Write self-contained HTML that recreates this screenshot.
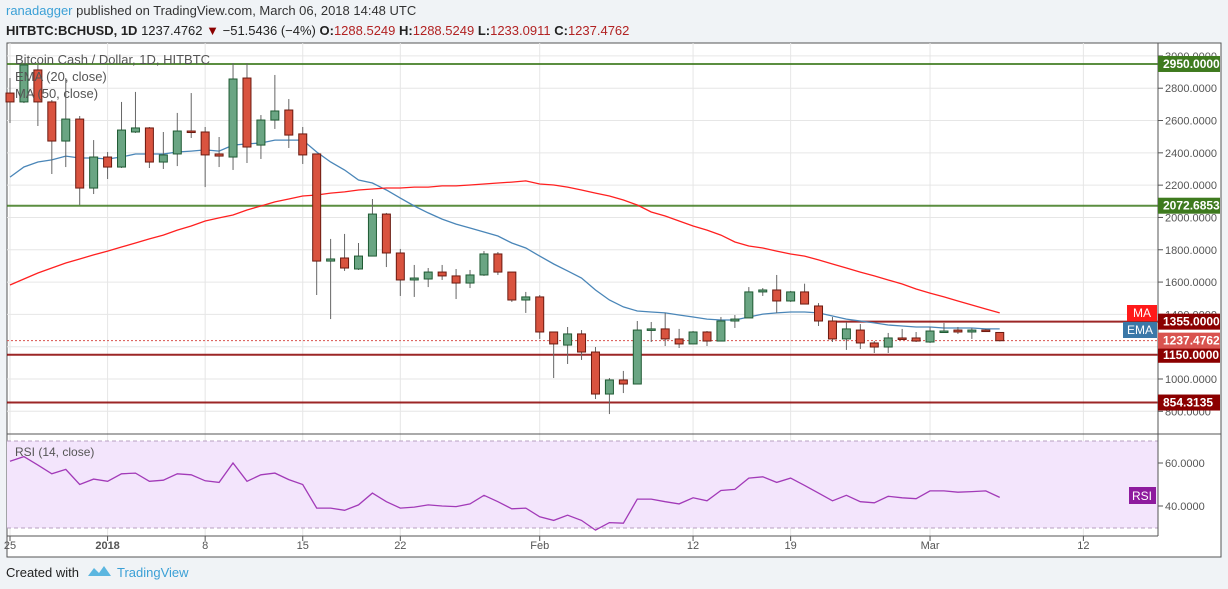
<!DOCTYPE html>
<html><head><meta charset="utf-8"><style>
body{margin:0;background:#f0f3f6;font-family:"Liberation Sans",sans-serif;}
svg{display:block}
</style></head><body>
<svg id="c" width="1228" height="589" xmlns="http://www.w3.org/2000/svg">
<rect x="0" y="0" width="1228" height="589" fill="#f0f3f6"/>
<text x="6" y="15" font-size="13" fill="#333"><tspan fill="#3ba0d6">ranadagger</tspan> published on TradingView.com, March 06, 2018 14:48 UTC</text>
<text x="6" y="35" font-size="13" fill="#222"><tspan font-weight="bold">HITBTC:BCHUSD, 1D</tspan> 1237.4762 <tspan fill="#8b0000">▼</tspan> −51.5436 (−4%) <tspan font-weight="bold">O:</tspan><tspan fill="#b22222">1288.5249</tspan> <tspan font-weight="bold">H:</tspan><tspan fill="#b22222">1288.5249</tspan> <tspan font-weight="bold">L:</tspan><tspan fill="#b22222">1233.0911</tspan> <tspan font-weight="bold">C:</tspan><tspan fill="#b22222">1237.4762</tspan></text>
<rect x="7" y="43" width="1214" height="514" fill="#fff" stroke="#555" stroke-width="1"/>
<g id="grid"></g>
<rect x="7" y="441" width="1151" height="87" fill="#f3e5fc"/>
<line x1="7" y1="441" x2="1158" y2="441" stroke="#b7a0c0" stroke-dasharray="4,3"/>
<line x1="7" y1="528" x2="1158" y2="528" stroke="#b7a0c0" stroke-dasharray="4,3"/>
<g id="levels"></g>
<g id="series"></g>
<g id="candles"></g>
<line x1="7" y1="434" x2="1221" y2="434" stroke="#555"/>
<line x1="7" y1="536" x2="1158" y2="536" stroke="#555"/>
<line x1="1158" y1="43" x2="1158" y2="536" stroke="#555"/>
<g id="axes"></g>
<text x="15" y="64" font-size="13" fill="#555">Bitcoin Cash / Dollar, 1D, HITBTC</text>
<text x="15" y="81" font-size="13" fill="#555">EMA (20, close)</text>
<text x="15" y="98" font-size="13" fill="#555">MA (50, close)</text>
<text x="15" y="456" font-size="12" fill="#555">RSI (14, close)</text>
<text x="6" y="577" font-size="13" fill="#222">Created with</text>
<path d="M88 576 l6 -8 l5 5 l5 -7 l7 10 z" fill="#5bb6e0"/>
<text x="117" y="577" font-size="13" fill="#3ba0d6">TradingView</text>
</svg>
<script>
const opens=[2770,2715,2913,2715,2473,2609,2182,2374,2312,2529,2554,2343,2393,2535,2529,2393,2374,2863,2448,2603,2665,2517,2393,1730,1749,1681,1761,2021,1780,1613,1619,1662,1638,1594,1644,1774,1662,1489,1508,1291,1210,1279,1167,907,994,969,1303,1310,1248,1217,1291,1235,1359,1378,1539,1551,1483,1539,1452,1359,1248,1303,1223,1198,1254,1254,1229,1291,1303,1291,1303,1288];
const highs=[2863,2956,2944,2727,2863,2628,2479,2405,2715,2777,2560,2529,2647,2770,2560,2498,2956,2956,2634,2882,2733,2560,2393,1867,1898,1842,2114,2028,1805,1706,1687,1706,1681,1675,1792,1786,1662,1539,1520,1291,1322,1303,1198,1006,1050,1359,1353,1409,1310,1297,1297,1384,1396,1569,1563,1644,1545,1590,1470,1384,1353,1340,1235,1285,1310,1291,1322,1347,1322,1316,1310,1288];
const lows=[2585,2708,2566,2269,2312,2077,2145,2238,2306,2523,2306,2300,2318,2492,2188,2312,2294,2337,2362,2548,2430,2331,1520,1371,1669,1675,1761,1693,1514,1508,1569,1613,1495,1563,1638,1644,1477,1409,1248,1006,1093,1118,876,783,913,969,1229,1204,1192,1217,1204,1235,1316,1378,1514,1409,1477,1464,1328,1229,1180,1186,1161,1161,1241,1229,1223,1291,1279,1248,1297,1233];
const closes=[2715,2944,2715,2473,2609,2182,2374,2312,2541,2554,2343,2387,2535,2529,2387,2380,2857,2436,2603,2659,2510,2387,1730,1743,1687,1761,2021,1780,1613,1625,1662,1638,1594,1644,1774,1662,1489,1508,1291,1217,1279,1167,907,994,969,1303,1310,1248,1217,1291,1235,1359,1371,1539,1551,1483,1539,1464,1359,1248,1310,1223,1198,1254,1248,1235,1297,1297,1291,1303,1297,1237];
const ema20=[2250,2312,2343,2356,2380,2368,2368,2362,2374,2393,2393,2393,2405,2411,2418,2411,2448,2455,2461,2479,2479,2479,2405,2343,2294,2232,2213,2170,2120,2071,2028,1990,1959,1935,1910,1885,1842,1811,1761,1712,1669,1625,1551,1489,1446,1421,1415,1409,1396,1384,1371,1365,1365,1384,1402,1409,1415,1415,1409,1390,1371,1359,1347,1334,1328,1322,1322,1316,1316,1316,1310,1310];
const ma50=[1582,1619,1656,1687,1718,1743,1768,1792,1817,1842,1867,1891,1922,1947,1978,1997,2015,2046,2071,2096,2114,2133,2139,2151,2158,2170,2176,2182,2182,2188,2188,2195,2195,2201,2207,2213,2219,2226,2207,2201,2188,2170,2151,2133,2108,2077,2034,2009,1978,1947,1922,1891,1848,1823,1811,1792,1774,1761,1737,1712,1687,1662,1638,1613,1588,1557,1532,1508,1483,1458,1433,1409];
const rsi=[60.8,63,59,55,57,50,52.5,51.5,55,55.3,51.5,52,55,54.5,51.7,51,60,51.5,54.5,55.3,52.3,50,39,39,38,40.5,46,42,39,39.5,40.5,40,39.7,41,45,42,38.7,39,35,33.3,35.7,33.3,28.8,32.3,32,43.2,43.2,42,41,43.8,42.4,47.2,47.7,53,53.6,51,53,49.6,46,42.4,45,42,41.5,44.5,43.8,43.4,47,47,46.4,46.7,47,44];
const priceTicks=[3000,2800,2600,2400,2200,2000,1800,1600,1400,1200,1000,800];
const priceLabels=["3000.0000","2800.0000","2600.0000","2400.0000","2200.0000","2000.0000","1800.0000","1600.0000","1400.0000","1200.0000","1000.0000","800.0000"];
const rsiTicks=[60,40];
const timeLabels=["25","2018","8","15","22","Feb","12","19","Mar","12"];
const timeIdx=[0,7,14,21,28,38,49,56,66,77];
const levelValues=[2950,2072.6853,1355,1150,854.3135];
const levelLabels=["2950.0000","2072.6853","1355.0000","1150.0000","854.3135"];
const lastPrice=1237.4762;

const NS="http://www.w3.org/2000/svg";
const X=i=>10+i*13.94;
const Y=p=>379-(p-1000)*0.16155;
const RY=v=>463-(v-60)*2.15;
function mk(tag,attrs,parent){const e=document.createElementNS(NS,tag);for(const k in attrs)e.setAttribute(k,attrs[k]);parent.appendChild(e);return e;}
const grid=document.getElementById('grid'),axes=document.getElementById('axes'),lv=document.getElementById('levels'),se=document.getElementById('series'),cg=document.getElementById('candles');

priceTicks.forEach((p,k)=>{
  if(Y(p)>43){const l=mk('line',{x1:7,x2:1158,y1:Y(p),y2:Y(p),stroke:'#e6e6e6'},grid);
  
  }
  mk('line',{x1:1158,x2:1163,y1:Y(p),y2:Y(p),stroke:'#555'},axes);
  const t=mk('text',{x:1165,y:Y(p)+4,'font-size':11,fill:'#555'},axes);t.textContent=priceLabels[k];
  
  
});
rsiTicks.forEach(v=>{
  mk('line',{x1:7,x2:1158,y1:RY(v),y2:RY(v),stroke:'#d8c8e0'},grid);
  mk('line',{x1:1158,x2:1163,y1:RY(v),y2:RY(v),stroke:'#555'},axes);
  const t=mk('text',{x:1165,y:RY(v)+4,'font-size':11,fill:'#555'},axes);t.textContent=v.toFixed(4);
  
  
});
timeLabels.forEach((s,k)=>{
  const x=X(timeIdx[k]);
  mk('line',{x1:x,x2:x,y1:43,y2:536,stroke:'#e6e6e6'},grid);
  mk('line',{x1:x,x2:x,y1:536,y2:541,stroke:'#555'},axes);
  const t=mk('text',{x:x,y:549,'font-size':11,fill:'#555','text-anchor':'middle','font-weight':s==='2018'?'bold':'normal'},axes);t.textContent=s;
  
  
});
levelValues.forEach((p,k)=>{
  const green=k<2, col=green?'#3e7a1e':'#8b0000';
  const ln=mk('line',{x1:k===2?X(59):7,x2:1158,y1:Y(p),y2:Y(p),stroke:col,'stroke-width':2,'stroke-opacity':0.85},lv);
  
  
  mk('rect',{x:1158,y:Y(p)-8,width:62,height:16,fill:col},axes);
  const t=mk('text',{x:1163,y:Y(p)+4,'font-size':12,fill:'#fff','font-weight':'bold'},axes);t.textContent=levelLabels[k];
  
  
});
const dl=mk('line',{x1:7,x2:1158,y1:Y(lastPrice),y2:Y(lastPrice),stroke:'#d9534f','stroke-dasharray':'2,2'},lv);


mk('rect',{x:1158,y:Y(lastPrice)-8,width:62,height:16,fill:'#d9534f'},axes);
const lp=mk('text',{x:1163,y:Y(lastPrice)+4,'font-size':12,fill:'#fff','font-weight':'bold'},axes);lp.textContent=lastPrice.toFixed(4);


// MA / EMA tags
mk('rect',{x:1127,y:305,width:30,height:16,fill:'#ff1a1a'},axes);
const mt=mk('text',{x:1142,y:317,'font-size':12,fill:'#fff','text-anchor':'middle'},axes);mt.textContent='MA';


mk('rect',{x:1123,y:322,width:34,height:16,fill:'#3a78a8'},axes);
const et=mk('text',{x:1140,y:334,'font-size':12,fill:'#fff','text-anchor':'middle'},axes);et.textContent='EMA';


mk('rect',{x:1129,y:487,width:27,height:17,fill:'#8e1b9e'},axes);
const rt=mk('text',{x:1142,y:500,'font-size':12,fill:'#fff','text-anchor':'middle'},axes);rt.textContent='RSI';



function poly(arr,fy,col,name){
  const d=arr.map((v,i)=>X(i).toFixed(1)+','+fy(v).toFixed(1)).join(' ');
  const p=mk('polyline',{points:d,fill:'none',stroke:col,'stroke-width':1.3},se);
  
  
}
poly(ema20,Y,'#4a86b8','ema20-line');
poly(ma50,Y,'#ff2020','ma50-line');
poly(rsi,RY,'#a23ab8','rsi-line');

opens.forEach((o,i)=>{
  const c=closes[i],up=c>=o,x=X(i);
  const w=mk('line',{x1:x,x2:x,y1:Y(highs[i]),y2:Y(lows[i]),stroke:'#666','stroke-width':1},cg);
  
  
  const top=Y(Math.max(o,c)),bot=Y(Math.min(o,c));
  const r=mk('rect',{x:x-4,y:top,width:8,height:Math.max(bot-top,1.5),fill:up?'#6aa583':'#d9533f',stroke:up?'#1f5a33':'#6b1a10','stroke-width':1},cg);
  
  
});
</script>
</body></html>
